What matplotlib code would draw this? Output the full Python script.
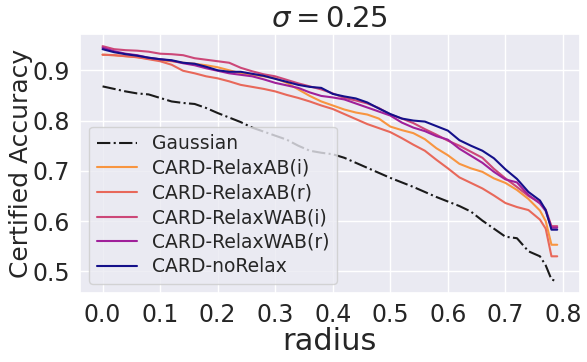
import numpy as np
import matplotlib
matplotlib.use("Agg")
import matplotlib.pyplot as plt
import seaborn as sns

radius = [0.00, 0.02, 0.04, 0.06, 0.08, 0.10, 0.12, 0.14, 0.16, 0.18,
          0.20, 0.22, 0.24, 0.26, 0.28, 0.30, 0.32, 0.34, 0.36, 0.38,
          0.40, 0.42, 0.44, 0.46, 0.48, 0.50, 0.52, 0.54, 0.56, 0.58,
          0.60, 0.62, 0.64, 0.66, 0.68, 0.70, 0.72, 0.74, 0.76, 0.77,
          0.78, 0.79]

gaussian = [0.868, 0.863, 0.858, 0.854, 0.852, 0.845, 0.838, 0.835, 0.833, 0.825,
            0.815, 0.806, 0.797, 0.786, 0.778, 0.770, 0.762, 0.750, 0.740, 0.736,
            0.733, 0.726, 0.716, 0.706, 0.696, 0.686, 0.677, 0.668, 0.658, 0.648,
            0.639, 0.630, 0.619, 0.601, 0.585, 0.569, 0.566, 0.540, 0.530, 0.512,
            0.484, 0.480]

relax_ab_i = [0.931, 0.930, 0.928, 0.926, 0.923, 0.920, 0.918, 0.915, 0.913, 0.910,
              0.906, 0.900, 0.894, 0.891, 0.888, 0.884, 0.875, 0.862, 0.849, 0.838,
              0.830, 0.822, 0.816, 0.812, 0.804, 0.788, 0.781, 0.775, 0.763, 0.745,
              0.731, 0.714, 0.705, 0.698, 0.685, 0.676, 0.662, 0.644, 0.621, 0.600,
              0.553, 0.553]

relax_ab_r = [0.931, 0.930, 0.928, 0.926, 0.922, 0.918, 0.911, 0.899, 0.894, 0.888,
              0.884, 0.878, 0.871, 0.867, 0.863, 0.858, 0.851, 0.845, 0.838, 0.830,
              0.823, 0.813, 0.803, 0.793, 0.785, 0.777, 0.765, 0.752, 0.740, 0.722,
              0.705, 0.687, 0.676, 0.665, 0.651, 0.636, 0.628, 0.622, 0.603, 0.585,
              0.530, 0.530]

relax_wab_i = [0.948, 0.942, 0.940, 0.939, 0.937, 0.933, 0.932, 0.930, 0.924, 0.921,
               0.918, 0.915, 0.905, 0.898, 0.892, 0.888, 0.881, 0.874, 0.868, 0.862,
               0.854, 0.845, 0.840, 0.834, 0.825, 0.812, 0.804, 0.795, 0.783, 0.772,
               0.760, 0.750, 0.738, 0.726, 0.704, 0.685, 0.668, 0.650, 0.637, 0.623,
               0.590, 0.590]

relax_wab_r = [0.945, 0.938, 0.933, 0.930, 0.925, 0.922, 0.919, 0.914, 0.910, 0.904,
               0.899, 0.894, 0.891, 0.888, 0.882, 0.875, 0.870, 0.865, 0.856, 0.849,
               0.846, 0.842, 0.834, 0.826, 0.818, 0.810, 0.796, 0.786, 0.779, 0.769,
               0.762, 0.744, 0.730, 0.716, 0.698, 0.683, 0.677, 0.652, 0.635, 0.620,
               0.587, 0.587]

no_relax = [0.942, 0.936, 0.932, 0.929, 0.925, 0.922, 0.920, 0.915, 0.913, 0.907,
            0.900, 0.897, 0.897, 0.893, 0.889, 0.883, 0.877, 0.871, 0.867, 0.865,
            0.853, 0.848, 0.844, 0.836, 0.824, 0.813, 0.804, 0.800, 0.798, 0.789,
            0.780, 0.761, 0.750, 0.740, 0.725, 0.703, 0.684, 0.658, 0.641, 0.622,
            0.583, 0.583]

labels = ["Gaussian", "CARD-RelaxAB(i)", "CARD-RelaxAB(r)",
          "CARD-RelaxWAB(i)", "CARD-RelaxWAB(r)", "CARD-noRelax"]
series = [gaussian, relax_ab_i, relax_ab_r, relax_wab_i, relax_wab_r, no_relax]
colors = ["#1a1a1a", "#f89540", "#e8685a", "#cc4778", "#a0209a", "#14108a"]
styles = ["-.", "-", "-", "-", "-", "-"]

sns.set_theme(style="darkgrid")
plt.rcParams['font.family'] = ['DejaVu Sans']

fig = plt.figure(figsize=(5.87, 3.62), dpi=100)
ax = fig.add_axes([0.136, 0.19, 0.852, 0.715])
for y, lab, c, ls in zip(series, labels, colors, styles):
    ax.plot(radius, y, ls, color=c, label=lab, linewidth=1.5)

ax.set_xticks([0.0, 0.1, 0.2, 0.3, 0.4, 0.5, 0.6, 0.7, 0.8])
ax.set_yticks([0.5, 0.6, 0.7, 0.8, 0.9])
ax.tick_params(labelsize=17, length=0, pad=7)
ax.set_xlabel("radius", fontsize=22, labelpad=0)
ax.set_ylabel("Certified Accuracy", fontsize=18)
ax.yaxis.set_label_coords(-0.094, 0.5)
ax.set_title(r"$\sigma = 0.25$", fontsize=21, pad=5)
ax.legend(loc="lower left", fontsize=13.5, labelspacing=0.3,
          borderpad=0.4, handlelength=2.15)

fig.savefig("out.png", dpi=100)
